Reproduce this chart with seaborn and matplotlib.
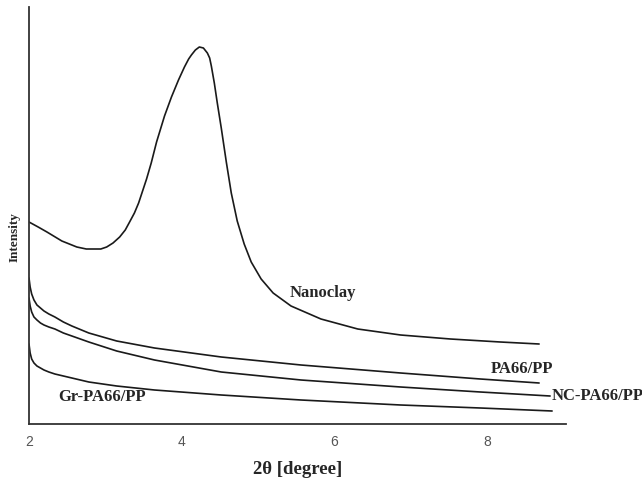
import matplotlib
matplotlib.use("Agg")
import matplotlib.pyplot as plt
import seaborn as sns
import pandas as pd

# ---- data (2theta in degrees, intensity in arbitrary units) ----
nanoclay_x = [2.00, 2.12, 2.235, 2.430, 2.626, 2.75, 2.848, 2.94, 3.017, 3.10, 3.187,
              3.26, 3.317, 3.38, 3.435, 3.539, 3.60, 3.670, 3.774, 3.865, 3.957,
              4.035, 4.09, 4.126, 4.178, 4.230, 4.283, 4.335, 4.365, 4.387, 4.426,
              4.465, 4.517, 4.583, 4.648, 4.726, 4.817, 4.909, 5.039, 5.196, 5.430,
              5.822, 6.304, 6.865, 7.517, 8.170, 8.678]
nanoclay_y = [202, 197, 192, 183, 177, 175, 175, 175, 177, 181, 187,
              194, 202, 211, 221, 245, 261, 282, 308, 327, 344,
              357, 365, 369, 374, 377, 376, 371, 366, 358, 341,
              321, 296, 262, 231, 203, 180, 162, 145, 131, 118,
              105, 95, 89, 85, 82, 80]

pa_x = [2.00, 2.015, 2.035, 2.065, 2.104, 2.150, 2.196, 2.260, 2.339, 2.45, 2.561,
        2.783, 3.148, 3.643, 4.517, 5.561, 6.865, 7.909, 8.678]
pa_y = [146, 137, 130, 124, 119, 116, 113, 110, 107, 102, 98,
        91, 83, 76, 67, 59, 51, 45, 41]

nc_x = [2.00, 2.015, 2.035, 2.065, 2.104, 2.150, 2.196, 2.260, 2.339, 2.45, 2.561,
        2.783, 3.148, 3.643, 4.517, 5.561, 6.865, 7.909, 8.822]
nc_y = [126, 118, 112, 107, 104, 101, 99, 97, 95, 91, 88,
        82, 73, 64, 52, 44, 37, 32, 28]

gr_x = [2.00, 2.015, 2.035, 2.065, 2.104, 2.150, 2.196, 2.260, 2.339, 2.45, 2.561,
        2.783, 3.148, 3.643, 4.517, 5.561, 6.865, 7.909, 8.848]
gr_y = [80, 71, 65, 61, 58, 56, 54, 52, 50, 48, 46,
        42, 38, 34, 29, 24, 19, 16, 13]

series_names = ["Nanoclay", "PA66/PP", "NC-PA66/PP", "Gr-PA66/PP"]
x_ticks = [2, 4, 6, 8]
x_label = "2θ [degree]"
y_label = "Intensity"

frames = []
for name, xs, ys in zip(series_names,
                        [nanoclay_x, pa_x, nc_x, gr_x],
                        [nanoclay_y, pa_y, nc_y, gr_y]):
    frames.append(pd.DataFrame({"theta": xs, "intensity": ys, "sample": name}))
df = pd.concat(frames, ignore_index=True)

sns.set_style("white")
plt.rcParams["font.family"] = ["DejaVu Sans"]

fig = plt.figure(figsize=(6.42, 4.83), dpi=100)
ax = fig.add_axes([29 / 642, 1 - 424 / 483, (566 - 29) / 642, (424 - 7) / 483])

sns.lineplot(data=df, x="theta", y="intensity", hue="sample", units="sample",
             estimator=None, sort=False,
             palette={n: "#1a1a1a" for n in series_names},
             linewidth=1.2, legend=False, ax=ax)

ax.set_xlim(2.0, 9.03)
ax.set_ylim(0, 417)
ax.set_xticks(x_ticks)
ax.set_xticklabels([str(t) for t in x_ticks], family="Liberation Sans",
                   fontsize=10, color="#555555")
ax.set_yticks([])
ax.tick_params(axis="x", length=0, pad=8)
ax.set_xlabel("")
ax.set_ylabel("")

for side in ["top", "right"]:
    ax.spines[side].set_visible(False)
for side in ["left", "bottom"]:
    ax.spines[side].set_color("#333333")
    ax.spines[side].set_linewidth(1.3)

serif = "Liberation Serif"
fig.text(298 / 642, 1 - 470 / 483, x_label, ha="center", va="center",
         family=serif, fontweight="bold", fontsize=13.5)
fig.text(15 / 642, 1 - 237 / 483, y_label, ha="center", va="center",
         rotation=90, family=serif, fontweight="bold", fontsize=9.5)

# curve labels
ax.text(5.85, 424 - 293, "Nanoclay", ha="center", va="center",
        family=serif, fontweight="bold", fontsize=12)
ax.text(8.45, 424 - 369, "PA66/PP", ha="center", va="center",
        family=serif, fontweight="bold", fontsize=12)
ax.text(8.84, 424 - 396, "NC-PA66/PP", ha="left", va="center",
        family=serif, fontweight="bold", fontsize=12, clip_on=False)
ax.text(2.95, 424 - 397, "Gr-PA66/PP", ha="center", va="center",
        family=serif, fontweight="bold", fontsize=12)

fig.savefig("out.png", dpi=100)
